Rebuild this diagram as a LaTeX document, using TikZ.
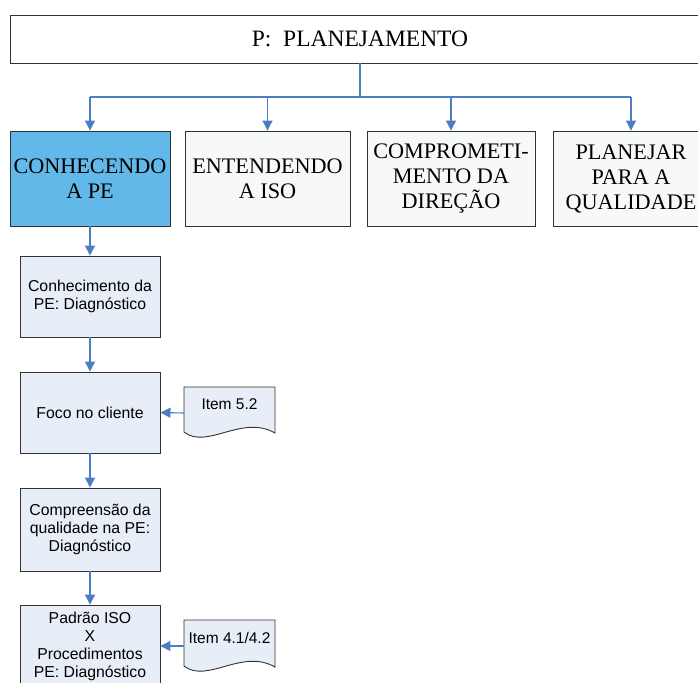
\documentclass[tikz,border=0pt]{standalone}
\usepackage{fontspec}
\setmainfont{Liberation Serif}
\setsansfont{Liberation Sans}
\usetikzlibrary{arrows.meta,calc}
\definecolor{arrowblue}{HTML}{4A7DC4}
\definecolor{hilite}{HTML}{62B8E8}
\definecolor{pale}{HTML}{F7F9F9}
\definecolor{lightcol}{HTML}{E8EEF7}
\definecolor{edge}{HTML}{333333}
\tikzset{
  conn/.style={draw=arrowblue, line width=1.1pt, -{Triangle[width=10pt,length=10pt]}},
  topbox/.style={draw=edge, line width=0.9pt, fill=white, minimum width=700pt, minimum height=48pt, inner sep=0pt,
    font=\fontsize{23.5}{26}\selectfont},
  rowbox/.style={draw=edge, line width=0.9pt, fill=pale, minimum height=95pt, inner sep=0pt, align=center,
    font=\fontsize{22.2}{25}\selectfont},
  colbox/.style={draw=edge, line width=0.9pt, fill=lightcol, minimum width=140pt, inner sep=0pt, align=center,
    font=\sffamily\fontsize{15.8}{18}\selectfont},
  docshape/.style={draw=edge, line width=0.9pt, fill=lightcol},
  doctext/.style={font=\sffamily\fontsize{15.5}{18}\selectfont, inner sep=0pt},
  docbox/.style={minimum width=91pt, minimum height=46pt, inner sep=0pt}
}
\begin{document}
\begin{tikzpicture}[x=1pt,y=-1pt]
\useasboundingbox (0,0) rectangle (698,682);
\clip (0,0) rectangle (698,682);
\fill[white] (0,0) rectangle (698,682);
% top
\node[topbox] (top) at (360,39) {P:\ \ PLANEJAMENTO};
\coordinate (hub) at (360,97);
% row boxes
\node[rowbox, fill=hilite, minimum width=160pt] (b1) at (90,178.5) {CONHECENDO\\A PE};
\node[rowbox, minimum width=165pt] (b2) at (267.5,178.5) {ENTENDENDO\\A ISO};
\node[rowbox, minimum width=168pt] (b3) at (451,178.5) {COMPROMETI-\\MENTO DA\\DIREÇÃO};
\node[rowbox, minimum width=156pt] (b4) at (631,178.5) {PLANEJAR\\PARA A\\QUALIDADE};
\draw[draw=arrowblue, line width=1.1pt] (top.south -| hub) -- (hub);
\draw[draw=arrowblue, line width=1.1pt] (b1.north |- hub) -- (b4.north |- hub);
\foreach \b in {b1,b2,b3,b4}{
  \draw[conn] (\b.north |- hub) -- (\b.north);
}
% column
\node[colbox, minimum height=81pt] (c1) at (90,296.5) {Conhecimento da\\PE: Diagnóstico};
\node[colbox, minimum height=81pt] (c2) at (90,412.5) {Foco no cliente};
\node[colbox, minimum height=83pt] (c3) at (90,529.5) {Compreensão da\\qualidade na PE:\\Diagnóstico};
\node[colbox, minimum height=82pt] (c4) at (90,646) {Padrão ISO\\X\\Procedimentos\\PE: Diagnóstico};
\draw[conn] (b1.south) -- (c1.north);
\draw[conn] (c1.south) -- (c2.north);
\draw[conn] (c2.south) -- (c3.north);
\draw[conn] (c3.south) -- (c4.north);
% documents
\draw[docshape] (184,387) -- (275,387) -- (275,433)
  .. controls (242,414) and (207,450) .. (184,432) -- cycle;
\node[docbox] (d1) at (229.5,413) {};
\node[doctext] (t1) at (229.5,404) {Item 5.2};
\draw[conn] (d1.west) -- (c2.east);
\draw[docshape] (184,620) -- (275,620) -- (275,667)
  .. controls (242,648) and (207,684) .. (184,666) -- cycle;
\node[docbox] (d2) at (229.5,646) {};
\node[doctext] (t2) at (229.5,638) {Item 4.1/4.2};
\draw[conn] (d2.west) -- (c4.east);
\end{tikzpicture}
\end{document}
